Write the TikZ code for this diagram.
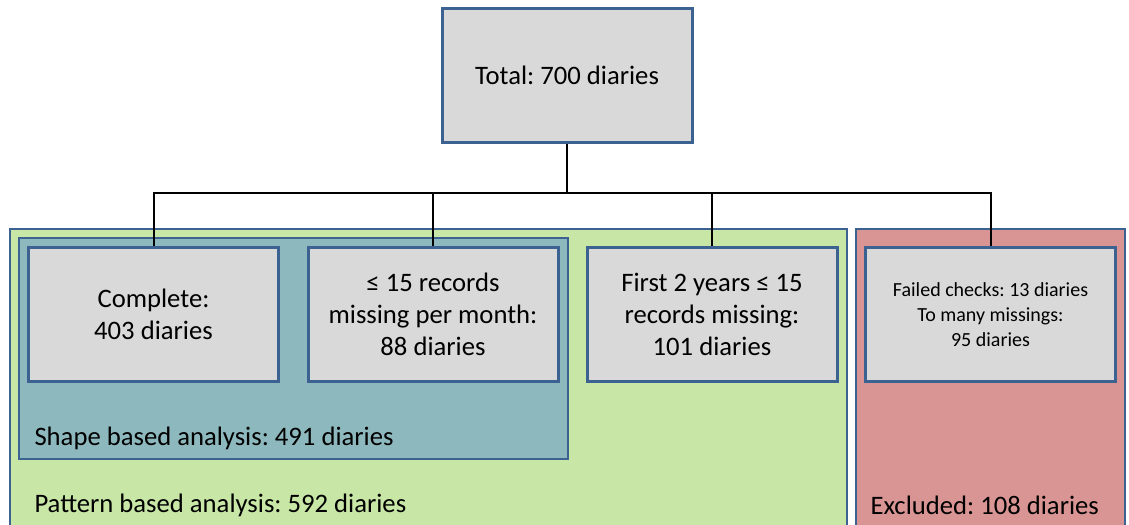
\documentclass[tikz,border=0pt]{standalone}
\usepackage{fontspec}
\setmainfont{Carlito}
\usepackage{tikz}
\frenchspacing
\tikzset{every picture/.style={line width=0.75pt}}
\definecolor{edgeblue}{RGB}{60,98,146}
\definecolor{boxgrey}{RGB}{217,217,217}
\definecolor{patgreen}{RGB}{200,230,166}
\definecolor{shapeteal}{RGB}{141,185,190}
\definecolor{exclred}{RGB}{217,149,148}

\begin{document}
\begin{tikzpicture}[x=0.75pt,y=0.75pt,yscale=-1,xscale=1,
  stepbox/.style={draw=edgeblue, fill=boxgrey, line width=2.25pt, minimum width=187.5pt, minimum height=100.5pt, inner sep=0.75pt, align=center, font=\fontsize{20}{24}\selectfont},
  group/.style={draw=edgeblue, line width=1.5pt},
  grouplabel/.style={anchor=west, inner sep=0.75pt, font=\fontsize{20}{24}\selectfont},
  link/.style={draw=black, line width=1.5pt}]
\useasboundingbox (0,0) rectangle (1129,525);

%Shape: Rectangle [pattern group]
\draw [group, fill=patgreen] (10,229) rectangle (847,540) ;
%Shape: Rectangle [shape group]
\draw [group, fill=shapeteal] (19,238) rectangle (568,459) ;
%Shape: Rectangle [excluded group]
\draw [group, fill=exclred] (856,229) rectangle (1125,540) ;

% Text Node
\node [stepbox] (total) at (567,75) {Total: 700 diaries};
% Text Node
\node [stepbox] (complete) at (153.5,314.5) {Complete:\\403 diaries};
% Text Node
\node [stepbox] (fewmiss) at (433,314.5) {≤ 15 records\\missing per month:\\88 diaries};
% Text Node
\node [stepbox] (firsttwo) at (712,314.5) {First 2 years ≤ 15\\records missing:\\101 diaries};
% Text Node
\node [stepbox, font=\fontsize{15}{18.75}\selectfont] (failed) at (990.5,314.5) {Failed checks: 13 diaries\\To many missings:\\95 diaries};

% Text Node
\node [grouplabel] (shapelbl) at (33,438) {Shape based analysis: 491 diaries};
% Text Node
\node [grouplabel] (patternlbl) at (33,505) {Pattern based analysis: 592 diaries};
% Text Node
\node [grouplabel] (excllbl) at (869,505) {Excluded: 108 diaries};

%Straight Lines
\coordinate (split) at (567,193);
\draw [link] (total.south) -- (split) ;
\draw [link] (complete.north) |- (split) ;
\draw [link] (fewmiss.north) |- (split) ;
\draw [link] (firsttwo.north) |- (split) ;
\draw [link] (failed.north) |- (split) ;

\end{tikzpicture}
\end{document}
